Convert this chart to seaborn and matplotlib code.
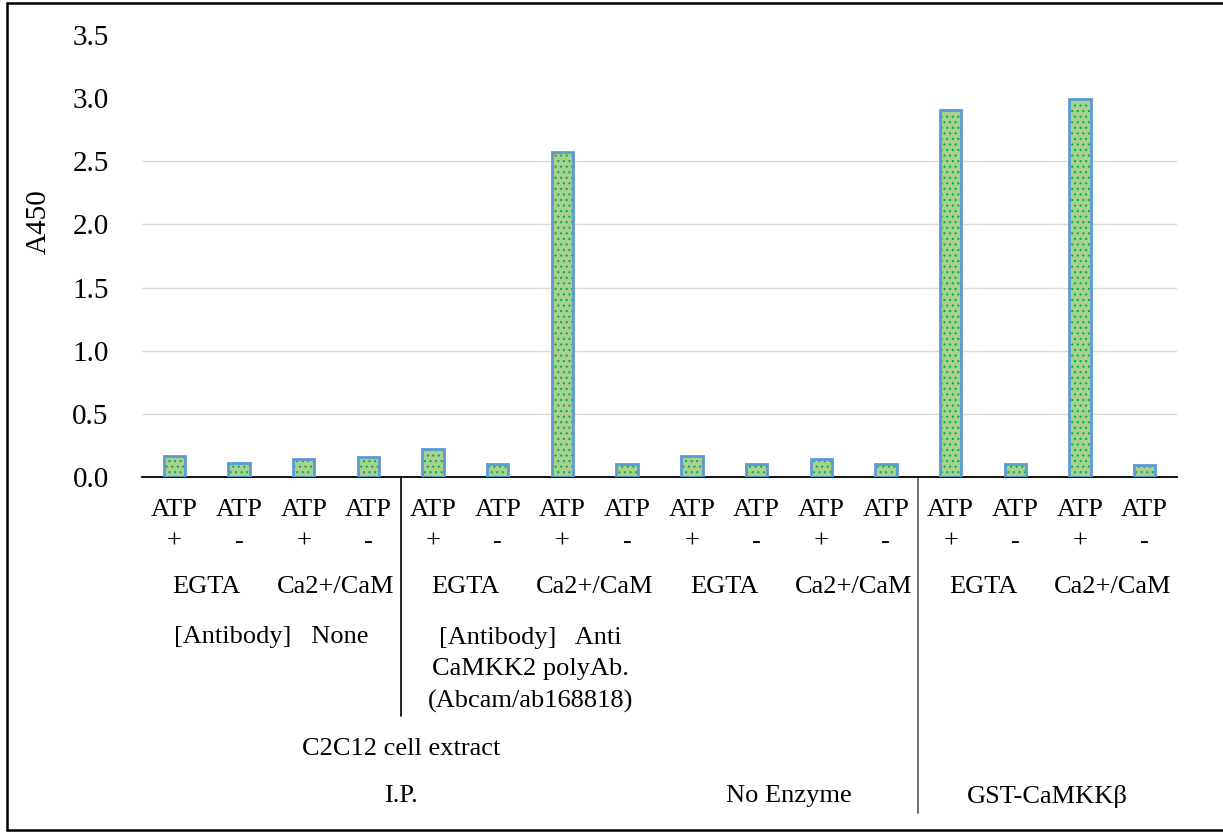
import pandas as pd
import matplotlib.pyplot as plt
import seaborn as sns
from matplotlib.lines import Line2D
from matplotlib.ticker import FormatStrFormatter

# bar data
atp_sign = ['+', '-', '+', '-', '+', '-', '+', '-',
            '+', '-', '+', '-', '+', '-', '+', '-']
treatment = ['EGTA', 'EGTA', 'Ca2+/CaM', 'Ca2+/CaM'] * 4
a450 = [0.17, 0.11, 0.145, 0.155, 0.225, 0.105, 2.57, 0.105,
        0.165, 0.105, 0.145, 0.105, 2.91, 0.10, 2.99, 0.095]

# grouped category labels: (text, first bar, last bar)
antibody_groups = [('[Antibody]   None', 0, 3),
                   ('[Antibody]   Anti\nCaMKK2 polyAb.\n(Abcam/ab168818)', 4, 7)]
extract_groups = [('C2C12 cell extract', 0, 7)]
source_groups = [('I.P.', 0, 7), ('No Enzyme', 8, 11), ('GST-CaMKK\u03b2', 12, 15)]

grid_levels = [0.5, 1.0, 1.5, 2.0, 2.5]

df = pd.DataFrame({
    'bar': [f'{i:02d}' for i in range(len(a450))],
    'atp': atp_sign,
    'treatment': treatment,
    'A450': a450,
})

sns.set_style('white')
plt.rcParams['font.family'] = ['Liberation Serif', 'DejaVu Serif']
plt.rcParams['hatch.linewidth'] = 0.8
for key in ['text.color', 'axes.labelcolor', 'xtick.color', 'ytick.color']:
    plt.rcParams[key] = 'black'

fig = plt.figure(figsize=(12.23, 8.32), dpi=100)
ax = fig.add_axes([142 / 1223, 1 - 477 / 832, 1035 / 1223, 442 / 832])

# fill with dotted pattern, then blue outline on top
sns.barplot(data=df, x='bar', y='A450', ax=ax, color='#A9D18E', width=0.33,
            edgecolor='#00B050', linewidth=0, hatch='...', saturation=1, zorder=2)
sns.barplot(data=df, x='bar', y='A450', ax=ax, fill=False, width=0.33,
            edgecolor='#5B9BD5', linewidth=2, zorder=3)

for lv in grid_levels:
    ax.axhline(lv, color='#D9D9D9', lw=1, zorder=1)

ax.set_xlim(-0.5, len(a450) - 0.5)
ax.set_ylim(0, 3.5)
ax.set_yticks([i * 0.5 for i in range(8)])
ax.yaxis.set_major_formatter(FormatStrFormatter('%.1f'))
ax.tick_params(axis='y', length=0, pad=24, labelsize=21)
ax.set_xticks(range(len(a450)), labels=[f'ATP\n{s}' for s in atp_sign])
ax.tick_params(axis='x', length=0, pad=16, labelsize=19)
for lab in ax.get_xticklabels():
    lab.set_linespacing(1.55)
ax.set_xlabel('')
ax.set_ylabel('A450', fontsize=21, va='center')
ax.yaxis.set_label_coords(-0.0995, (477 - 222) / 442)

for side in ['top', 'right', 'left']:
    ax.spines[side].set_visible(False)
ax.spines['bottom'].set_color('black')
ax.spines['bottom'].set_linewidth(1.3)


def yfrac(py):
    return (477 - py) / 442


trans = ax.get_xaxis_transform()
for i in range(0, len(a450), 2):
    ax.text(i + 0.5, yfrac(587), treatment[i], transform=trans,
            ha='center', va='center', fontsize=19)
for txt, a, b in antibody_groups:
    y = 637 if '\n' not in txt else 670
    ax.text((a + b) / 2, yfrac(y), txt, transform=trans, ha='center',
            va='center', fontsize=19, linespacing=1.55)
for txt, a, b in extract_groups:
    ax.text((a + b) / 2, yfrac(749), txt, transform=trans,
            ha='center', va='center', fontsize=19)
for txt, a, b in source_groups:
    ax.text((a + b) / 2, yfrac(796), txt, transform=trans,
            ha='center', va='center', fontsize=19)

# group separators below the axis
ax.plot([3.5, 3.5], [0, yfrac(716)], transform=trans, color='black',
        lw=1.2, clip_on=False)
ax.plot([11.5, 11.5], [0, yfrac(813)], transform=trans, color='#595959',
        lw=1.2, clip_on=False)

# outer frame (right edge falls outside the picture)
W, H = 1223, 832
for xs, ys in [([7, 7], [3, 830]), ([7, W], [3, 3]), ([7, W], [830, 830])]:
    fig.add_artist(Line2D([x / W for x in xs], [1 - y / H for y in ys],
                          color='black', lw=1.8))

fig.savefig('out.png', dpi=100)
